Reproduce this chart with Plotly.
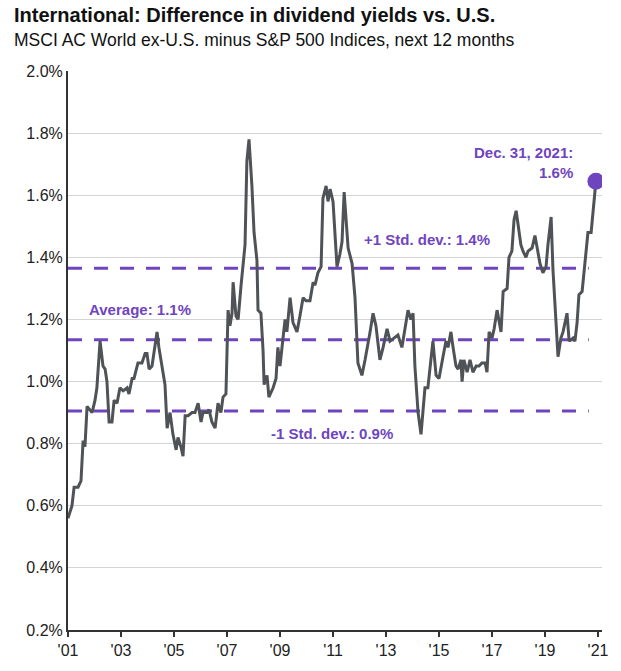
import plotly.graph_objects as go

# Decimal-year positions and yield-difference values (%)
years = [2001.00, 2001.15, 2001.23, 2001.38, 2001.49, 2001.57, 2001.64, 2001.72, 2001.91, 2002.02,
         2002.09, 2002.21, 2002.32, 2002.40, 2002.47, 2002.55, 2002.66, 2002.74, 2002.85, 2002.96,
         2003.08, 2003.23, 2003.30, 2003.42, 2003.49, 2003.64, 2003.79, 2003.91, 2003.98, 2004.06,
         2004.17, 2004.25, 2004.36, 2004.43, 2004.55, 2004.66, 2004.74, 2004.85, 2004.96, 2005.08,
         2005.15, 2005.26, 2005.34, 2005.42, 2005.53, 2005.68, 2005.79, 2005.91, 2006.02, 2006.09,
         2006.25, 2006.32, 2006.43, 2006.55, 2006.66, 2006.77, 2006.85, 2006.96, 2007.04, 2007.11,
         2007.19, 2007.23, 2007.34, 2007.42, 2007.53, 2007.60, 2007.68, 2007.75, 2007.83, 2007.94,
         2008.02, 2008.13, 2008.17, 2008.28, 2008.36, 2008.40, 2008.51, 2008.58, 2008.74, 2008.85,
         2008.92, 2009.00, 2009.11, 2009.19, 2009.26, 2009.38, 2009.49, 2009.64, 2009.75, 2009.87,
         2009.98, 2010.13, 2010.25, 2010.32, 2010.43, 2010.55, 2010.62, 2010.74, 2010.81, 2010.89,
         2011.00, 2011.08, 2011.15, 2011.26, 2011.34, 2011.42, 2011.49, 2011.57, 2011.72, 2011.83,
         2011.94, 2012.09, 2012.21, 2012.28, 2012.40, 2012.51, 2012.62, 2012.77, 2012.89, 2013.04,
         2013.15, 2013.30, 2013.45, 2013.60, 2013.72, 2013.83, 2013.94, 2014.02, 2014.09, 2014.21,
         2014.32, 2014.40, 2014.47, 2014.58, 2014.77, 2014.89, 2015.00, 2015.15, 2015.26, 2015.34,
         2015.45, 2015.53, 2015.64, 2015.72, 2015.83, 2015.87, 2015.94, 2016.06, 2016.17, 2016.28,
         2016.40, 2016.51, 2016.62, 2016.74, 2016.81, 2016.89, 2017.00, 2017.08, 2017.19, 2017.34,
         2017.42, 2017.57, 2017.64, 2017.75, 2017.83, 2017.91, 2017.98, 2018.09, 2018.17, 2018.28,
         2018.36, 2018.51, 2018.62, 2018.70, 2018.81, 2018.92, 2019.04, 2019.11, 2019.23, 2019.30,
         2019.42, 2019.49, 2019.60, 2019.68, 2019.83, 2019.91, 2020.06, 2020.13, 2020.21, 2020.28,
         2020.40, 2020.47, 2020.55, 2020.62, 2020.74, 2020.81, 2020.89, 2020.92]

yield_diff = [0.56, 0.60, 0.66, 0.66, 0.68, 0.81, 0.79, 0.92, 0.90, 0.94,
              0.98, 1.13, 1.05, 1.04, 1.00, 0.87, 0.87, 0.94, 0.93, 0.98,
              0.97, 0.98, 0.96, 1.01, 1.01, 1.06, 1.06, 1.09, 1.09, 1.04,
              1.05, 1.10, 1.16, 1.11, 1.05, 0.99, 0.85, 0.90, 0.83, 0.78,
              0.82, 0.79, 0.76, 0.89, 0.89, 0.90, 0.90, 0.93, 0.87, 0.90,
              0.90, 0.91, 0.87, 0.85, 0.93, 0.90, 0.95, 0.96, 1.23, 1.18,
              1.22, 1.32, 1.21, 1.20, 1.31, 1.38, 1.44, 1.71, 1.78, 1.63,
              1.48, 1.39, 1.23, 1.22, 1.10, 0.99, 1.02, 0.95, 0.98, 1.01,
              1.11, 1.05, 1.14, 1.20, 1.16, 1.27, 1.19, 1.16, 1.21, 1.27,
              1.26, 1.26, 1.32, 1.31, 1.35, 1.37, 1.59, 1.63, 1.58, 1.62,
              1.58, 1.45, 1.37, 1.41, 1.45, 1.61, 1.52, 1.43, 1.38, 1.27,
              1.06, 1.02, 1.07, 1.10, 1.16, 1.22, 1.18, 1.07, 1.11, 1.17,
              1.13, 1.14, 1.15, 1.11, 1.18, 1.23, 1.20, 1.22, 1.05, 0.90,
              0.83, 0.92, 0.98, 0.98, 1.13, 1.02, 1.01, 1.08, 1.13, 1.11,
              1.16, 1.11, 1.05, 1.04, 1.07, 1.00, 1.07, 1.03, 1.07, 1.03,
              1.05, 1.05, 1.06, 1.06, 1.03, 1.16, 1.14, 1.17, 1.23, 1.16,
              1.29, 1.30, 1.40, 1.42, 1.52, 1.55, 1.51, 1.44, 1.42, 1.40,
              1.42, 1.43, 1.47, 1.43, 1.38, 1.35, 1.37, 1.44, 1.53, 1.36,
              1.20, 1.08, 1.14, 1.16, 1.22, 1.13, 1.14, 1.13, 1.19, 1.28,
              1.29, 1.35, 1.44, 1.48, 1.48, 1.54, 1.62, 1.645]

ref_names = ["+1 Std. dev.", "Average", "-1 Std. dev."]
ref_levels = [1.365, 1.135, 0.905]
ref_labels = ["+1 Std. dev.: 1.4%", "Average: 1.1%", "-1 Std. dev.: 0.9%"]

x_tickvals = [2001, 2003, 2005, 2007, 2009, 2011, 2013, 2015, 2017, 2019, 2021]
x_ticktext = ["'01", "'03", "'05", "'07", "'09", "'11", "'13", "'15", "'17", "'19", "'21"]
y_tickvals = [0.2, 0.4, 0.6, 0.8, 1.0, 1.2, 1.4, 1.6, 1.8, 2.0]
y_ticktext = ["0.2%", "0.4%", "0.6%", "0.8%", "1.0%", "1.2%", "1.4%", "1.6%", "1.8%", "2.0%"]

title_text = "International: Difference in dividend yields vs. U.S."
subtitle_text = "MSCI AC World ex-U.S. minus S&P 500 Indices, next 12 months"
last_label = "Dec. 31, 2021:<br>1.6%"

PURPLE = "#6F45BF"
GRAY = "#4F5357"
FONT = "Liberation Sans, Arial, sans-serif"

fig = go.Figure()

dash_end = 2020.65
for lvl, nm in zip(ref_levels, ref_names):
    fig.add_trace(go.Scatter(x=[2001.0, dash_end], y=[lvl, lvl], mode="lines", name=nm,
                             line=dict(color=PURPLE, width=3, dash="14px,12px"),
                             hoverinfo="skip", showlegend=False))

fig.add_trace(go.Scatter(x=years, y=yield_diff, mode="lines", name="Difference",
                         line=dict(color=GRAY, width=3), showlegend=False))

fig.add_trace(go.Scatter(x=[years[-1]], y=[yield_diff[-1]], mode="markers",
                         marker=dict(color=PURPLE, size=17), showlegend=False))

afont = dict(color=PURPLE, size=15, family=FONT, weight="bold")
fig.add_annotation(x=2001.72, y=1.233, text=ref_labels[1], showarrow=False, xanchor="left", font=afont)
fig.add_annotation(x=2012.09, y=1.458, text=ref_labels[0], showarrow=False, xanchor="left", font=afont)
fig.add_annotation(x=2008.58, y=0.832, text=ref_labels[2], showarrow=False, xanchor="left", font=afont)
fig.add_annotation(x=2020.12, y=1.705, text=last_label, showarrow=False, xanchor="right",
                   align="right", font=afont)

# title and subtitle
fig.add_annotation(xref="paper", yref="paper", x=-0.105, y=1.0998, xanchor="left", yanchor="middle",
                   text="<b>" + title_text + "</b>", showarrow=False,
                   font=dict(size=20, color="#111111", family=FONT))
fig.add_annotation(xref="paper", yref="paper", x=-0.105, y=1.0553, xanchor="left", yanchor="middle",
                   text=subtitle_text, showarrow=False,
                   font=dict(size=17.5, color="#111111", family=FONT))

fig.update_layout(
    width=621, height=671,
    margin=dict(l=68, r=19, t=71, b=39),
    paper_bgcolor="white", plot_bgcolor="white",
    font=dict(family=FONT, color="#222222", size=16),
    xaxis=dict(range=[2001, 2021.15], tickvals=x_tickvals, ticktext=x_ticktext,
               showgrid=False, zeroline=False, showline=True, linecolor="#333333", linewidth=2,
               ticks="outside", ticklen=5, tickwidth=2, tickcolor="#333333",
               tickfont=dict(size=16, color="#222222")),
    yaxis=dict(range=[0.2, 2.0], tickvals=y_tickvals, ticktext=y_ticktext,
               showgrid=True, gridcolor="#D4D4D4", gridwidth=1, zeroline=False,
               showline=True, linecolor="#333333", linewidth=2, ticks="",
               tickfont=dict(size=16, color="#222222")),
)

fig.write_html("out.html", config={"displayModeBar": False},
               post_script="document.body.style.margin='0px';")
